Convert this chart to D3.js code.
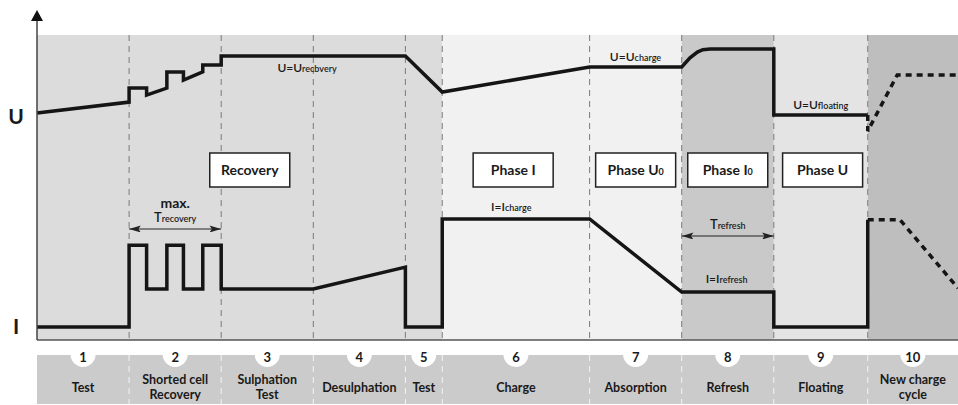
<!DOCTYPE html>
<html><head><meta charset="utf-8">
<script src="https://cdn.jsdelivr.net/npm/d3@7"></script>
<style>
body{margin:0;background:#fff}
svg{display:block}
text{font-family:Lato,"Open Sans",sans-serif;fill:#1a1a1a}
</style>
</head><body>
<svg id="c" width="958" height="405"></svg>
<script>
// ---------- data ----------
const boundaries = [0, 10, 20, 30, 40, 44, 60, 70, 80, 90.2, 100];
const stepNumbers = ["1","2","3","4","5","6","7","8","9","10"];
const stepLabels = [["Test"],["Shorted cell","Recovery"],["Sulphation","Test"],["Desulphation"],["Test"],["Charge"],["Absorption"],["Refresh"],["Floating"],["New charge","cycle"]];
const zoneStarts = [0, 44, 70, 80, 90.2];
const zoneEnds   = [44, 70, 80, 90.2, 100];
const zoneFills  = ["#dcdcdc", "#f1f1f1", "#c9c9c9", "#e4e4e5", "#bebebe"];
const phaseNames = ["Recovery", "Phase I", "Phase U", "Phase I", "Phase U"];
const phaseSubs  = ["", "", "0", "0", ""];
const phaseCenters = [23.1, 51.7, 65.0, 75.0, 85.3];
const voltage = [[0,74.4],[10,78],[10,82.6],[11.9,82.6],[11.9,80.3],[14.1,82.6],[14.1,87.9],[15.9,87.9],[15.9,85.2],[18,87.9],[18,90.2],[20,90.2],[20,93.1],[40,93.1],[44,81.3],[60,89.5],[70,89.5],[70.9,92.5],[71.7,94.4],[72.3,95.2],[73.1,95.4],[80,95.4],[80,73.8],[90.2,73.8]];
const voltageNext = [[90.2,73.8],[90.2,68.5],[93.4,86.9],[100,86.9]];
const current = [[0,4.3],[10,4.3],[10,31.1],[11.9,31.1],[11.9,16.7],[14.1,16.7],[14.1,31.1],[15.9,31.1],[15.9,16.7],[18,16.7],[18,31.1],[20,31.1],[20,16.7],[30,16.7],[40,23.9],[40,4.3],[44,4.3],[44,39.7],[60,39.7],[70,15.7],[80,15.7],[80,4.3],[90.2,4.3],[90.2,39.4]];
const currentNext = [[90.2,39.4],[93.7,39.4],[100,17.0]];
const levelLabels = [
  {main:"U=U", sub:"recbvery", t:26.1, v:87.9},
  {main:"U=U", sub:"charge",   t:62.2, v:91.5},
  {main:"U=U", sub:"floating", t:82.1, v:75.7},
  {main:"I=I", sub:"charge",   t:49.3, v:42.3},
  {main:"I=I", sub:"refresh",  t:72.6, v:18.7}
];
const spans = [
  {from:10, to:20, v:36.4, top:"max.", main:"T", sub:"recovery"},
  {from:70, to:80, v:34.1, top:"", main:"T", sub:"refresh"}
];

// ---------- layout ----------
const svg = d3.select("#c");
const x = d3.scaleLinear().domain([0,100]).range([37, 958]);
const y = d3.scaleLinear().domain([0,100]).range([340, 35]);
const bandTop = 355, bandBot = 404;

// zones
svg.selectAll("rect.zone").data(zoneStarts).join("rect")
  .attr("x", d => x(d)).attr("y", y(100))
  .attr("width", (d,i) => x(zoneEnds[i]) - x(d))
  .attr("height", y(0) - y(100))
  .attr("fill", (d,i) => zoneFills[i]);

// bottom band
svg.append("rect").attr("x", x(0)).attr("y", bandTop).attr("width", x(100)-x(0)).attr("height", bandBot-bandTop).attr("fill", "#cbcbcb");

// dashed dividers
const inner = boundaries.slice(1, -1);
svg.selectAll("line.div").data(inner).join("line")
  .attr("x1", d => x(d)).attr("x2", d => x(d))
  .attr("y1", y(100)).attr("y2", y(0))
  .attr("stroke", "#7a7a7a").attr("stroke-width", 1).attr("stroke-dasharray", "6,5");
svg.selectAll("line.divb").data(inner).join("line")
  .attr("x1", d => x(d)).attr("x2", d => x(d))
  .attr("y1", bandTop).attr("y2", bandBot)
  .attr("stroke", "#f4f4f4").attr("stroke-width", 1).attr("stroke-dasharray", "6,5");

// phase boxes
const bw = 80, bh = 34, by = 153;
const pb = svg.selectAll("g.pbox").data(phaseNames).join("g");
pb.append("rect").attr("x", (d,i) => x(phaseCenters[i]) - bw/2).attr("y", by)
  .attr("width", bw).attr("height", bh).attr("fill", "#fff").attr("stroke", "#222").attr("stroke-width", 1.5);
const pt = pb.append("text").attr("x", (d,i) => x(phaseCenters[i])).attr("y", by + 22)
  .attr("text-anchor", "middle").attr("font-size", 14).attr("font-weight", 700);
pt.append("tspan").text(d => d);
pt.append("tspan").attr("font-size", 9).text((d,i) => phaseSubs[i]);

// lines
const line = d3.line().x(d => x(d[0])).y(d => y(d[1]));
svg.append("path").attr("d", line(voltage)).attr("fill","none").attr("stroke","#151515").attr("stroke-width",3.5).attr("stroke-linejoin","miter");
svg.append("path").attr("d", line(current)).attr("fill","none").attr("stroke","#151515").attr("stroke-width",3.5).attr("stroke-linejoin","miter");
svg.append("path").attr("d", line(voltageNext)).attr("fill","none").attr("stroke","#151515").attr("stroke-width",3.5).attr("stroke-dasharray","6,5");
svg.append("path").attr("d", line(currentNext)).attr("fill","none").attr("stroke","#151515").attr("stroke-width",3.5).attr("stroke-dasharray","6,5");

// level labels
const ll = svg.selectAll("text.lvl").data(levelLabels).join("text")
  .attr("x", d => x(d.t)).attr("y", d => y(d.v)).attr("font-size", 12).attr("font-weight", 600);
ll.append("tspan").text(d => d.main);
ll.append("tspan").attr("font-size", 9).text(d => d.sub);

// span arrows
const defs = svg.append("defs");
["s","e"].forEach(k => {
  defs.append("marker").attr("id","ar"+k).attr("viewBox","0 0 10 6").attr("refX", k==="e"?10:0).attr("refY",3)
    .attr("markerWidth",12).attr("markerHeight",7).attr("markerUnits","userSpaceOnUse").attr("orient","auto")
    .append("path").attr("d", k==="e" ? "M0,0L10,3L0,6L2,3Z" : "M10,0L0,3L10,6L8,3Z").attr("fill","#222");
});
const sp = svg.selectAll("g.span").data(spans).join("g");
sp.append("line").attr("x1", d => x(d.from)).attr("x2", d => x(d.to)).attr("y1", d => y(d.v)).attr("y2", d => y(d.v))
  .attr("stroke","#222").attr("stroke-width",1.2).attr("marker-start","url(#ars)").attr("marker-end","url(#are)");
const st = sp.append("text").attr("x", d => x((d.from+d.to)/2)).attr("y", d => y(d.v) - 7).attr("text-anchor","middle").attr("font-size",13).attr("font-weight",600);
st.append("tspan").text(d => d.main);
st.append("tspan").attr("font-size",9).text(d => d.sub);
sp.append("text").attr("x", d => x((d.from+d.to)/2)).attr("y", d => y(d.v) - 21).attr("text-anchor","middle").attr("font-size",14).attr("font-weight",700).text(d => d.top);

// axes
svg.append("line").attr("x1", x(0)).attr("x2", x(100)).attr("y1", y(0)).attr("y2", y(0)).attr("stroke","#555").attr("stroke-width",1.5);
svg.append("line").attr("x1", x(0)).attr("x2", x(0)).attr("y1", 18).attr("y2", y(0)).attr("stroke","#444").attr("stroke-width",1.5);
svg.append("path").attr("d", `M${x(0)},10L${x(0)+6},21L${x(0)-6},21Z`).attr("fill","#111");
svg.append("text").attr("x",16).attr("y",124).attr("text-anchor","middle").attr("font-size",21).attr("font-weight",700).text("U");
svg.append("text").attr("x",16).attr("y",334).attr("text-anchor","middle").attr("font-size",21).attr("font-weight",700).text("I");

// step labels
const mids = stepNumbers.map((d,i) => (boundaries[i]+boundaries[i+1])/2);
svg.selectAll("circle.num").data(stepNumbers).join("circle")
  .attr("cx", (d,i) => x(mids[i])).attr("cy", 354.5).attr("r", 12.5).attr("fill","#fff");
svg.selectAll("text.num").data(stepNumbers).join("text")
  .attr("x", (d,i) => x(mids[i])).attr("y", 361.5).attr("text-anchor","middle").attr("font-size",13).attr("font-weight",700).text(d => d);
svg.selectAll("text.lab").data(stepLabels).join("text")
  .attr("x", (d,i) => x(mids[i])).attr("text-anchor","middle").attr("font-size",12.5).attr("font-weight",700)
  .each(function(d,i){
    const t = d3.select(this);
    const ys = d.length === 1 ? [392] : [384, 399];
    d.forEach((s,j) => t.append("tspan").attr("x", x(mids[i])).attr("y", ys[j]).text(s));
  });
</script>
</body></html>
